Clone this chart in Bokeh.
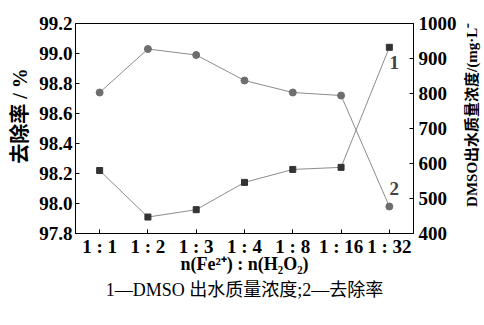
import math
from bokeh.plotting import figure
from bokeh.layouts import row
from bokeh.models import (Range1d, LinearAxis, FixedTicker, Label, NumeralTickFormatter, Title)
from bokeh.core.properties import value
from bokeh.embed import file_html
from bokeh.resources import INLINE

categories = ["1 : 1", "1 : 2", "1 : 3", "1 : 4", "1 : 8", "1 : 16", "1 : 32"]
removal_rate = [98.74, 99.03, 98.99, 98.82, 98.74, 98.72, 97.98]   # %, left axis (series 2)
dmso_conc = [580, 447, 468, 546, 583, 589, 932]                    # mg/L, right axis (series 1)
left_ticks = [97.8, 98.0, 98.2, 98.4, 98.6, 98.8, 99.0, 99.2]
right_ticks = [400, 500, 600, 700, 800, 900, 1000]
right_title = "DMSO出水质量浓度/(mg·L⁻¹)"

SERIF = "'Liberation Serif', 'Noto Sans CJK SC'"
FS = "19px"
TFS = "18px"

xs = list(range(len(categories)))

p = figure(width=461, height=325, x_range=Range1d(-0.5, 6.5), y_range=Range1d(97.8, 99.2),
           output_backend="svg", toolbar_location=None,
           min_border_left=75, min_border_right=48, min_border_top=23, min_border_bottom=92)
p.extra_y_ranges = {"dmso": Range1d(400, 1000)}

p.xgrid.visible = False
p.ygrid.visible = False
p.outline_line_color = "black"
p.outline_line_width = 1
p.background_fill_color = "white"
p.border_fill_color = "white"

xa = p.xaxis[0]
xa.ticker = FixedTicker(ticks=xs)
xa.major_label_overrides = {i: c for i, c in enumerate(categories)}
ya = p.yaxis[0]
ya.ticker = FixedTicker(ticks=left_ticks)
ya.formatter = NumeralTickFormatter(format="0.0")
ra = LinearAxis(y_range_name="dmso", ticker=FixedTicker(ticks=right_ticks))
p.add_layout(ra, "right")

for ax in (xa, ya, ra):
    ax.major_tick_in = 4
    ax.major_tick_out = 0
    ax.minor_tick_line_color = None
    ax.axis_line_color = "black"
    ax.major_tick_line_color = "black"
    ax.major_label_text_font = SERIF
    ax.major_label_text_font_size = FS
    ax.major_label_text_font_style = "bold"
    ax.major_label_text_color = "black"
    ax.axis_label_text_font = SERIF
    ax.axis_label_text_font_size = TFS
    ax.axis_label_text_font_style = "bold"
    ax.axis_label_text_color = "black"
xa.major_label_standoff = 2
ya.major_label_standoff = 3
ra.major_label_standoff = 5

xa.axis_label = "n(Fe²⁺) : n(H₂O₂)"
xa.axis_label_standoff = -6
ya.axis_label = "\u00a0\u00a0\u00a0\u00a0\u00a0去除率 / %"
ya.axis_label_text_font_size = "20px"
ya.axis_label_standoff = 5

p.add_layout(Title(text="1—DMSO 出水质量浓度;2—去除率", align="center",
                   text_font=SERIF, text_font_size=TFS, text_font_style="normal",
                   text_color="black", standoff=3), "below")

p.line(xs, removal_rate, line_color="#8c8c8c", line_width=1)
p.scatter(xs, removal_rate, marker="circle", size=7, fill_color="#6e6e6e", line_color="#6e6e6e")
p.line(xs, dmso_conc, line_color="#8c8c8c", line_width=1, y_range_name="dmso")
p.scatter(xs, dmso_conc, marker="square", size=6, fill_color="#333333", line_color="#333333",
          y_range_name="dmso")

p.add_layout(Label(x=6.1, y=889, y_range_name="dmso", text="1", text_font=SERIF,
                   text_font_size=FS, text_font_style="bold", text_align="center",
                   text_baseline="middle"))
p.add_layout(Label(x=6.1, y=529, y_range_name="dmso", text="2", text_font=SERIF,
                   text_font_size=FS, text_font_style="bold", text_align="center",
                   text_baseline="middle"))

# narrow side panel carrying the right-axis title (reads bottom-to-top)
side = figure(width=23, height=325, x_range=Range1d(0, 23), y_range=Range1d(0, 325),
              output_backend="svg", toolbar_location=None,
              x_axis_location=None, y_axis_location=None, min_border=0)
side.xgrid.visible = False
side.ygrid.visible = False
side.outline_line_color = None
side.background_fill_color = "white"
side.border_fill_color = "white"
side.text(x=[10], y=[191], text=[right_title], angle=math.pi / 2,
          text_font=value(SERIF), text_font_size="15px", text_font_style="bold",
          text_color="black", text_align="center", text_baseline="middle")

layout = row(p, side, spacing=0)
open("out.html", "w").write(file_html(layout, INLINE))
